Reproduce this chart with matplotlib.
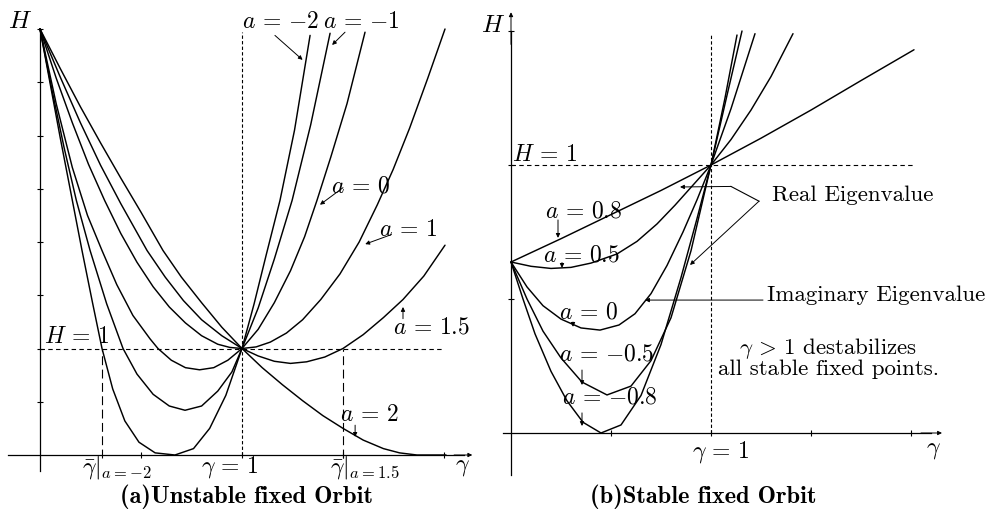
import matplotlib
matplotlib.use("Agg")
import matplotlib.pyplot as plt

plt.rcParams['mathtext.fontset'] = 'cm'
plt.rcParams['font.family'] = ['cmr10', 'DejaVu Serif']
plt.rcParams['axes.unicode_minus'] = False

# ---------------- data: panel (a) unstable fixed orbit ----------------
a_labels_left = ["-2", "-1", "0", "1", "1.5", "2"]
g_m2 = [0, 0.05, 0.1, 0.15, 0.208, 0.26, 0.307, 0.36, 0.42, 0.49, 0.57, 0.668, 0.76, 0.84, 0.92, 1.0, 1.06, 1.12, 1.188, 1.26, 1.337]
h_m2 = [4.0, 3.49, 2.98, 2.49, 1.92, 1.43, 1.0, 0.62, 0.32, 0.12, 0.02, 0.0, 0.06, 0.25, 0.56, 1.0, 1.42, 1.88, 2.39, 3.05, 3.94]
g_m1 = [0, 0.06, 0.12, 0.18, 0.248, 0.33, 0.411, 0.48, 0.56, 0.64, 0.718, 0.8, 0.88, 0.95, 1.0, 1.08, 1.16, 1.248, 1.34, 1.436]
h_m1 = [4.0, 3.42, 2.88, 2.39, 1.92, 1.42, 1.0, 0.76, 0.57, 0.46, 0.42, 0.46, 0.6, 0.78, 1.0, 1.38, 1.84, 2.39, 3.1, 3.96]
g_0 = [0, 0.08, 0.16, 0.235, 0.307, 0.38, 0.46, 0.545, 0.584, 0.65, 0.72, 0.79, 0.86, 0.93, 1.0, 1.08, 1.16, 1.24, 1.31, 1.371, 1.44, 1.52, 1.609]
h_0 = [4.0, 3.3, 2.7, 2.25, 1.92, 1.6, 1.31, 1.09, 1.0, 0.89, 0.82, 0.80, 0.82, 0.89, 1.0, 1.18, 1.43, 1.73, 2.05, 2.39, 2.8, 3.3, 3.97]
g_1 = [0, 0.08, 0.16, 0.24, 0.32, 0.4, 0.48, 0.56, 0.64, 0.72, 0.8, 0.88, 0.94, 1.0, 1.07, 1.14, 1.22, 1.3, 1.39, 1.485, 1.58, 1.67, 1.748, 1.83, 1.92, 2.005]
h_1 = [4.0, 3.54, 3.12, 2.73, 2.39, 2.08, 1.81, 1.58, 1.39, 1.24, 1.12, 1.04, 1.01, 1.0, 1.015, 1.06, 1.145, 1.27, 1.46, 1.7, 2.0, 2.35, 2.68, 3.07, 3.54, 4.0]
g_15 = [0, 0.1, 0.2, 0.3, 0.4, 0.53, 0.62, 0.71, 0.8, 0.9, 1.0, 1.08, 1.16, 1.24, 1.32, 1.41, 1.5, 1.6, 1.7, 1.797, 1.9, 2.005]
h_15 = [4.0, 3.55, 3.12, 2.72, 2.36, 1.92, 1.67, 1.45, 1.27, 1.12, 1.0, 0.93, 0.88, 0.86, 0.875, 0.92, 1.0, 1.13, 1.29, 1.46, 1.68, 1.97]
g_2 = [0, 0.1, 0.2, 0.3, 0.4, 0.5, 0.609, 0.7, 0.8, 0.9, 1.0, 1.1, 1.2, 1.3, 1.4, 1.5, 1.6, 1.7, 1.78, 1.866, 1.95, 2.01]
h_2 = [4.0, 3.63, 3.27, 2.93, 2.6, 2.28, 1.92, 1.67, 1.43, 1.2, 1.0, 0.82, 0.66, 0.51, 0.37, 0.25, 0.14, 0.06, 0.02, 0.0, 0.0, 0.0]
gbar_m2 = 0.307
gbar_15 = 1.5

# ---------------- data: panel (b) stable fixed orbit ----------------
a_labels_right = ["0.8", "0.5", "0", "-0.5", "-0.8"]
s_g08 = [0, 0.25, 0.5, 0.75, 1.0, 1.25, 1.5, 1.75, 2.015]
s_h08 = [0.638, 0.725, 0.815, 0.905, 1.0, 1.1, 1.205, 1.315, 1.43]
s_g05 = [0, 0.1, 0.2, 0.3, 0.4, 0.53, 0.63, 0.73, 0.82, 0.91, 1.0, 1.1, 1.2, 1.3, 1.41]
s_h05 = [0.638, 0.622, 0.614, 0.618, 0.634, 0.668, 0.715, 0.78, 0.85, 0.925, 1.0, 1.095, 1.205, 1.33, 1.49]
s_g0 = [0, 0.08, 0.16, 0.25, 0.35, 0.445, 0.54, 0.62, 0.7, 0.78, 0.86, 0.93, 1.0, 1.1, 1.22]
s_h0 = [0.638, 0.545, 0.475, 0.425, 0.392, 0.384, 0.403, 0.445, 0.52, 0.625, 0.75, 0.87, 1.0, 1.21, 1.49]
s_gm05 = [0, 0.08, 0.16, 0.25, 0.355, 0.48, 0.6, 0.7, 0.8, 0.9, 1.0, 1.08, 1.155]
s_hm05 = [0.638, 0.5, 0.38, 0.28, 0.19, 0.142, 0.175, 0.27, 0.43, 0.68, 1.0, 1.26, 1.5]
s_gm08 = [0, 0.06, 0.12, 0.2, 0.28, 0.36, 0.45, 0.55, 0.65, 0.75, 0.85, 0.93, 1.0, 1.07, 1.13]
s_hm08 = [0.638, 0.5, 0.37, 0.23, 0.12, 0.04, 0.0, 0.03, 0.14, 0.33, 0.58, 0.8, 1.0, 1.25, 1.485]

W, H = 987, 516
fig = plt.figure(figsize=(W / 100, H / 100), dpi=100)


def make_axes(L, R, T, B, px0, sx, py0, sy):
    ax = fig.add_axes([L / W, (H - B) / H, (R - L) / W, (B - T) / H])
    ax.set_xlim((L - px0) / sx, (R - px0) / sx)
    ax.set_ylim((py0 - B) / sy, (py0 - T) / sy)
    ax.patch.set_alpha(0)
    for s in ['top', 'right']:
        ax.spines[s].set_visible(False)
    ax.spines['left'].set_position(('data', 0))
    ax.spines['bottom'].set_position(('data', 0))
    ax.spines['left'].set_linewidth(0.9)
    ax.spines['bottom'].set_linewidth(0.9)
    ax.tick_params(direction='inout', length=5, width=0.8, labelleft=False, labelbottom=False)
    return ax

LW = 1.05
akw = dict(arrowstyle='-|>', lw=0.7, color='k', mutation_scale=6, shrinkA=0, shrinkB=0)
tfs = 17
pfs = 16.5
cfs = 17.6


def alab(val):
    return r'$a\,=\,{%s}$' % val.replace('-', '-')

# ===== panel (a) =====
axA = make_axes(0, 493, 0, 516, 40, 202, 455, 106.5)
axA.spines['left'].set_bounds(-0.15, 4.0)
axA.spines['bottom'].set_bounds(-0.16, 2.1)
axA.set_xticks([0.5, 1.0, 1.5, 2.0])
axA.set_yticks([0.5, 1.0, 1.5, 2.0, 2.5, 3.0, 3.5, 4.0])
axA.annotate('', xy=(0, 4.0 + 0.38), xytext=(0, 3.9), arrowprops=akw)
axA.annotate('', xy=(2.14, 0), xytext=(2.05, 0), arrowprops=akw)

for g, h in [(g_m2, h_m2), (g_m1, h_m1), (g_0, h_0), (g_1, h_1), (g_15, h_15), (g_2, h_2)]:
    axA.plot(g, h, color='k', lw=LW, solid_capstyle='round')

axA.plot([0, 2.0], [1, 1], color='k', lw=0.8, ls=(0, (4, 3)))
axA.plot([1, 1], [0, 3.97], color='k', lw=0.8, ls=(0, (3, 2)))
axA.plot([gbar_m2, gbar_m2], [-0.03, 1], color='k', lw=0.8, ls=(0, (8, 4)))
axA.plot([gbar_15, gbar_15], [-0.03, 1], color='k', lw=0.8, ls=(0, (8, 4)))

axA.text(-0.1, 4.07, r'$H$', fontsize=18, ha='center', va='center')
axA.text(0.183, 1.11, r'$H\,=\,1$', fontsize=tfs, ha='center', va='center')
axA.text(1.19, 4.07, alab(a_labels_left[0]), fontsize=tfs, ha='center', va='center')
axA.text(1.59, 4.07, alab(a_labels_left[1]), fontsize=tfs, ha='center', va='center')
axA.annotate('', xy=(1.3, 3.71), xytext=(1.163, 3.94), arrowprops=akw)
axA.annotate('', xy=(1.446, 3.85), xytext=(1.51, 3.97), arrowprops=akw)
axA.text(1.585, 2.52, alab(a_labels_left[2]), fontsize=tfs, ha='center', va='center')
axA.annotate('', xy=(1.386, 2.35), xytext=(1.5, 2.51), arrowprops=akw)
axA.text(1.82, 2.11, alab(a_labels_left[3]), fontsize=tfs, ha='center', va='center')
axA.annotate('', xy=(1.61, 1.98), xytext=(1.74, 2.07), arrowprops=akw)
axA.text(1.94, 1.2, alab(a_labels_left[4]), fontsize=tfs, ha='center', va='center')
axA.annotate('', xy=(1.797, 1.39), xytext=(1.797, 1.28), arrowprops=akw)
axA.text(1.63, 0.375, alab(a_labels_left[5]), fontsize=tfs, ha='center', va='center')
axA.annotate('', xy=(1.56, 0.17), xytext=(1.56, 0.28), arrowprops=akw)

axA.text(0.38, -0.115, r'$\bar{\gamma}|_{a={-2}}$', fontsize=tfs, ha='center', va='center')
axA.text(0.94, -0.115, r'$\gamma\,=\,1$', fontsize=tfs, ha='center', va='center')
axA.text(1.61, -0.115, r'$\bar{\gamma}|_{a=1.5}$', fontsize=tfs, ha='center', va='center')
axA.text(2.09, -0.115, r'$\gamma$', fontsize=tfs, ha='center', va='center')
axA.text(1.02, -0.39, '(a)Unstable fixed Orbit', fontsize=cfs, family='cmb10',
         ha='center', va='center')

# ===== panel (b) =====
axB = make_axes(493, 987, 0, 516, 511, 200, 433, 268)
axB.spines['left'].set_bounds(-0.157, 1.5)
axB.spines['bottom'].set_bounds(-0.04, 2.1)
axB.set_xticks([0.5, 1.0, 1.5, 2.0])
axB.set_yticks([0.5, 1.0, 1.5])
axB.annotate('', xy=(0, 1.57), xytext=(0, 1.45), arrowprops=akw)
axB.annotate('', xy=(2.155, 0), xytext=(2.05, 0), arrowprops=akw)

for g, h in [(s_g08, s_h08), (s_g05, s_h05), (s_g0, s_h0), (s_gm05, s_hm05), (s_gm08, s_hm08)]:
    axB.plot(g, h, color='k', lw=LW, solid_capstyle='round')

axB.plot([0, 2.01], [1, 1], color='k', lw=0.8, ls=(0, (4, 3)))
axB.plot([1, 1], [0, 1.49], color='k', lw=0.8, ls=(0, (3, 2)))

axB.text(-0.09, 1.52, r'$H$', fontsize=18, ha='center', va='center')
axB.text(0.17, 1.037, r'$H\,=\,1$', fontsize=tfs, ha='center', va='center')
axB.text(0.365, 0.828, alab(a_labels_right[0]), fontsize=tfs, ha='center', va='center')
axB.annotate('', xy=(0.235, 0.728), xytext=(0.235, 0.795), arrowprops=akw)
axB.text(0.35, 0.664, alab(a_labels_right[1]), fontsize=tfs, ha='center', va='center')
axB.annotate('', xy=(0.255, 0.616), xytext=(0.255, 0.636), arrowprops=akw)
axB.text(0.385, 0.448, alab(a_labels_right[2]), fontsize=tfs, ha='center', va='center')
axB.annotate('', xy=(0.31, 0.396), xytext=(0.31, 0.414), arrowprops=akw)
axB.text(0.48, 0.295, alab(a_labels_right[3]), fontsize=tfs, ha='center', va='center')
axB.annotate('', xy=(0.355, 0.179), xytext=(0.355, 0.235), arrowprops=akw)
axB.text(0.495, 0.134, alab(a_labels_right[4]), fontsize=tfs, ha='center', va='center')
axB.annotate('', xy=(0.355, 0.026), xytext=(0.355, 0.075), arrowprops=akw)

axB.text(1.305, 0.888, 'Real Eigenvalue', fontsize=pfs, ha='left', va='center')
axB.plot([1.24, 1.1], [0.865, 0.92], color='k', lw=0.8)
axB.annotate('', xy=(0.845, 0.918), xytext=(1.1, 0.92), arrowprops=akw)
axB.annotate('', xy=(0.895, 0.627), xytext=(1.24, 0.865), arrowprops=akw)
axB.text(1.28, 0.515, 'Imaginary Eigenvalue', fontsize=pfs, ha='left', va='center')
axB.annotate('', xy=(0.67, 0.496), xytext=(1.26, 0.496), arrowprops=akw)
axB.text(1.585, 0.282, '$\\gamma\\,>\\,1$ destabilizes\nall stable fixed points.',
         fontsize=pfs, ha='center', va='center', multialignment='center', linespacing=0.95)
axB.text(1.05, -0.071, r'$\gamma\,=\,1$', fontsize=tfs, ha='center', va='center')
axB.text(2.11, -0.065, r'$\gamma$', fontsize=tfs, ha='center', va='center')
axB.text(0.96, -0.239, '(b)Stable fixed Orbit', fontsize=cfs, family='cmb10',
         ha='center', va='center')

fig.savefig('out.png', dpi=100)
